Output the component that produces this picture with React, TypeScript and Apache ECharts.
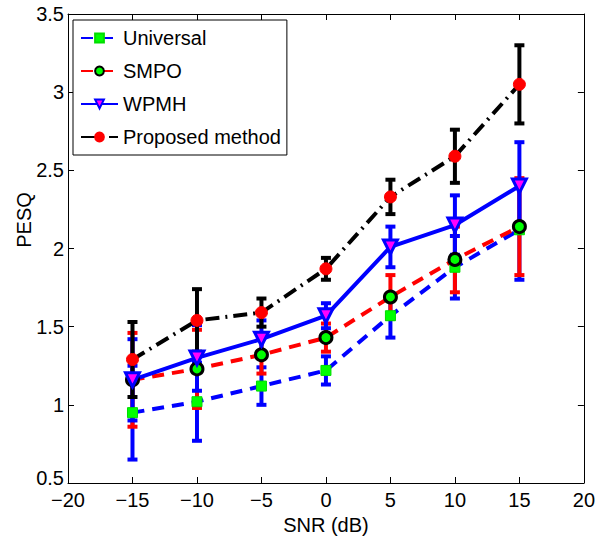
import React, { useEffect, useRef } from "react";
import * as echarts from "echarts";

const snr = [-15, -10, -5, 0, 5, 10, 15];
const universal = [0.95, 1.02, 1.12, 1.22, 1.57, 1.88, 2.12];
const universalErr = [0.3, 0.25, 0.12, 0.09, 0.14, 0.2, 0.32];
const smpo = [1.16, 1.23, 1.32, 1.43, 1.69, 1.93, 2.14];
const smpoErr = [0.3, 0.25, 0.12, 0.09, 0.14, 0.21, 0.31];
const wpmh = [1.16, 1.3, 1.42, 1.57, 2.01, 2.15, 2.4];
const wpmhErr = [0.26, 0.21, 0.12, 0.08, 0.13, 0.19, 0.28];
const proposed = [1.29, 1.54, 1.59, 1.87, 2.33, 2.59, 3.05];
const proposedErr = [0.24, 0.2, 0.09, 0.07, 0.11, 0.17, 0.25];

const FONT = "'Liberation Sans', Arial, Helvetica, sans-serif";

function errSeries(vals: number[], errs: number[], color: string) {
  return {
    type: "custom",
    xAxisIndex: 0,
    yAxisIndex: 0,
    silent: true,
    encode: { x: 0, y: [1, 2] },
    data: snr.map((x, i) => [x, vals[i] - errs[i], vals[i] + errs[i]]),
    renderItem: (params: any, api: any) => {
      const x = api.value(0);
      const lo = api.coord([x, api.value(1)]);
      const hi = api.coord([x, api.value(2)]);
      const w = 5;
      const style = { stroke: color, lineWidth: 4 };
      return {
        type: "group",
        children: [
          { type: "line", shape: { x1: lo[0], y1: lo[1], x2: hi[0], y2: hi[1] }, style },
          { type: "line", shape: { x1: lo[0] - w, y1: lo[1], x2: lo[0] + w, y2: lo[1] }, style },
          { type: "line", shape: { x1: hi[0] - w, y1: hi[1], x2: hi[0] + w, y2: hi[1] }, style },
        ],
      };
    },
  };
}

function lineSeries(
  name: string,
  vals: number[],
  color: string,
  type: any,
  symbol: string,
  symbolSize: number,
  itemStyle: any,
  extra: any = {}
) {
  return {
    name,
    type: "line",
    xAxisIndex: 0,
    yAxisIndex: 0,
    data: snr.map((x, i) => [x, vals[i]]),
    lineStyle: { color, width: 4, type },
    symbol,
    symbolSize,
    showAllSymbol: true,
    itemStyle,
    ...extra,
  };
}

export default function App() {
  const ref = useRef<HTMLDivElement>(null);
  useEffect(() => {
    if (!ref.current) return;
    const chart = echarts.init(ref.current, undefined, { renderer: "svg" });
    const axisCommon = {
      axisLine: { show: true, onZero: false, lineStyle: { color: "#000", width: 1 } },
      axisTick: { show: true, inside: true, length: 6, lineStyle: { color: "#000", width: 1 } },
      splitLine: { show: false },
    };
    chart.setOption({
      animation: false,
      backgroundColor: "#fff",
      textStyle: { fontFamily: FONT },
      grid: { left: 68, right: 10, top: 14, bottom: 66, containLabel: false },
      legend: {
        left: 73,
        top: 20,
        orient: "vertical",
        backgroundColor: "#fff",
        borderColor: "#000",
        borderWidth: 1,
        borderRadius: 0,
        padding: [8, 6, 8, 7],
        itemWidth: 37,
        itemHeight: 11,
        itemGap: 13,
        textStyle: { fontFamily: FONT, fontSize: 20, color: "#000", lineHeight: 20 },
        data: ["Universal", "SMPO", "WPMH", "Proposed method"],
      },
      xAxis: [
        {
          ...axisCommon,
          type: "value",
          position: "bottom",
          min: -20,
          max: 20,
          interval: 5,
          name: "SNR (dB)",
          nameLocation: "middle",
          nameGap: 31,
          nameTextStyle: { fontFamily: FONT, fontSize: 20, color: "#000" },
          axisLabel: {
            margin: 9,
            lineHeight: 16,
            fontFamily: FONT,
            fontSize: 20,
            color: "#000",
            formatter: (v: number) => String(v).replace("-", "\u2212"),
          },
        },
        {
          ...axisCommon,
          type: "value",
          position: "top",
          min: -20,
          max: 20,
          interval: 5,
          axisLabel: { show: false },
        },
      ],
      yAxis: [
        {
          ...axisCommon,
          type: "value",
          position: "left",
          min: 0.5,
          max: 3.5,
          interval: 0.5,
          axisLabel: {
            margin: 4,
            lineHeight: 14,
            fontFamily: FONT,
            fontSize: 20,
            color: "#000",
            formatter: (v: number) => (v === 0.5 ? "{lo|0.5}" : String(v)),
            rich: {
              lo: {
                fontFamily: FONT,
                fontSize: 20,
                color: "#000",
                lineHeight: 14,
                padding: [0, 0, 10, 0],
              },
            },
          },
        },
        {
          ...axisCommon,
          type: "value",
          position: "right",
          min: 0.5,
          max: 3.5,
          interval: 0.5,
          axisLabel: { show: false },
        },
      ],
      graphic: [
        {
          type: "text",
          x: 24,
          y: 220,
          rotation: Math.PI / 2,
          style: {
            text: "PESQ",
            fontFamily: FONT,
            fontSize: 20,
            fill: "#000",
            align: "center",
            verticalAlign: "middle",
          },
        },
      ],
      series: [
        errSeries(universal, universalErr, "#0000ff"),
        lineSeries("Universal", universal, "#0000ff", [12, 8], "rect", 10, {
          color: "#00ff00",
          borderColor: "#00dd00",
          borderWidth: 1,
        }),
        errSeries(smpo, smpoErr, "#ff0000"),
        lineSeries("SMPO", smpo, "#ff0000", [12, 8], "circle", 12, {
          color: "#00ff00",
          borderColor: "#000",
          borderWidth: 3,
        }),
        errSeries(wpmh, wpmhErr, "#0000ff"),
        lineSeries(
          "WPMH",
          wpmh,
          "#0000ff",
          "solid",
          "triangle",
          14,
          { color: "#ff00ff", borderColor: "#0000ff", borderWidth: 3 },
          { symbolRotate: 180 }
        ),
        errSeries(proposed, proposedErr, "#000000"),
        lineSeries("Proposed method", proposed, "#000000", [14, 6, 2, 6], "circle", 12, {
          color: "#ff0000",
          borderColor: "#ff0000",
          borderWidth: 1,
        }),
      ],
    });
    return () => chart.dispose();
  }, []);
  return (
    <div
      ref={ref}
      style={{ position: "fixed", left: 0, top: 0, width: 598, height: 549 }}
    />
  );
}
